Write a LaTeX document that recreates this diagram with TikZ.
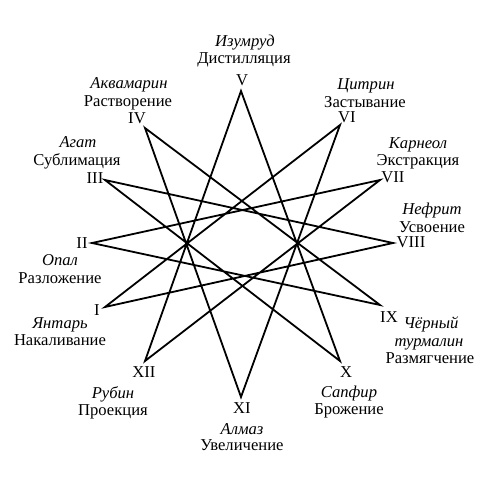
\documentclass[tikz,border=0pt]{standalone}
\usepackage{fontspec}
\setmainfont{Liberation Serif}
\usepackage{tikz}

\begin{document}
\begin{tikzpicture}[x=0.5pt,y=-0.5pt]
			\tikzstyle{every node} = [font = \fontsize{8.3}{9}\selectfont, inner sep = 0pt, text height = 1.45ex, text depth = 0.35ex]
			\tikzstyle{gem} = [font = \fontsize{8.3}{9}\selectfont\itshape]
			\tikzstyle{ray} = [draw, line width = 0.9pt, line join = miter]
				\useasboundingbox (0,0) rectangle (500,488);
				% tips of the star
				\coordinate (v1) at (105,307);
				\coordinate (v2) at (92,243);
				\coordinate (v3) at (105,180);
				\coordinate (v4) at (145,128);
				\coordinate (v5) at (241,91);
				\coordinate (v6) at (340,125);
				\coordinate (v7) at (380,180);
				\coordinate (v8) at (393,243);
				\coordinate (v9) at (380,305);
				\coordinate (v10) at (340,361);
				\coordinate (v11) at (241,397);
				\coordinate (v12) at (145,361);
				\path[ray] (v1) -- (v6) -- (v11) -- (v4) -- (v9) -- (v2) --
					(v7) -- (v12) -- (v5) -- (v10) -- (v3) -- (v8) -- cycle;
				% numerals
				\node (n1) at (97,310) {I};
				\node (n2) at (82,243) {II};
				\node (n3) at (95,178) {III};
				\node (n4) at (137,118) {IV};
				\node (n5) at (242,80) {V};
				\node (n6) at (347,117.5) {VI};
				\node (n7) at (393,177) {VII};
				\node (n8) at (411,242) {VIII};
				\node (n9) at (389,317) {IX};
				\node (n10) at (346,372) {X};
				\node (n11) at (242,408) {XI};
				\node (n12) at (144,372) {XII};
				% stones and operations
				\node[gem] (g1) at (60,323) {Янтарь};
				\node (o1) at (60,340) {Накаливание};
				\node[gem] (g2) at (60,260) {Опал};
				\node (o2) at (60,278) {Разложение};
				\node[gem] (g3) at (78,142) {Агат};
				\node (o3) at (77,160) {Сублимация};
				\node[gem] (g4) at (129,83) {Аквамарин};
				\node (o4) at (128,101) {Растворение};
				\node[gem] (g5) at (245,41) {Изумруд};
				\node (o5) at (244,58) {Дистилляция};
				\node[gem] (g6) at (366,84) {Цитрин};
				\node (o6) at (365,102) {Застывание};
				\node[gem] (g7) at (418,143) {Карнеол};
				\node (o7) at (418,160) {Экстракция};
				\node[gem] (g8) at (432,209) {Нефрит};
				\node (o8) at (432,227) {Усвоение};
				\node[gem] (g9) at (431,323) {Чёрный};
				\node[gem] (g9b) at (429,341) {турмалин};
				\node (o9) at (430,358) {Размягчение};
				\node[gem] (g10) at (349,392) {Сапфир};
				\node (o10) at (349,409) {Брожение};
				\node[gem] (g11) at (242,429) {Алмаз};
				\node (o11) at (242,445) {Увеличение};
				\node[gem] (g12) at (113,393) {Рубин};
				\node (o12) at (113,410) {Проекция};
			\end{tikzpicture}
\end{document}
